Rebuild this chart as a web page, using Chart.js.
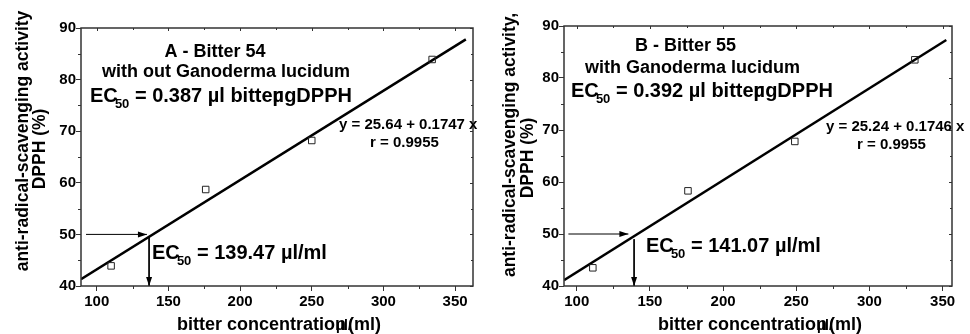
<!DOCTYPE html>
<html>
<head>
<meta charset="utf-8">
<script src="https://cdn.jsdelivr.net/npm/chart.js@4.4.1/dist/chart.umd.min.js"></script>
<style>
  html, body { margin: 0; padding: 0; background: #fff; }
  .panel { position: absolute; top: 0; width: 485px; height: 334px; }
  #panelA { left: 0; }
  #panelB { left: 485px; }
</style>
</head>
<body>
<div class="panel" id="panelA"><canvas id="chartA" width="485" height="334"></canvas></div>
<div class="panel" id="panelB"><canvas id="chartB" width="485" height="334"></canvas></div>
<script>
// ticks
const xMajor = [100, 150, 200, 250, 300, 350];
const xMinor = [125, 175, 225, 275, 325];
const yMajor = [40, 50, 60, 70, 80, 90];
const yMinor = [45, 55, 65, 75, 85];
const yRange = [40, 90];

// A - Bitter 54
const concA = [110, 176, 250, 334];
const dpphA = [43.9, 58.7, 68.2, 83.9];
const fitXA = [89, 357.5];
const fitYA = [41.3, 87.8];
const arrowXA = [92.5, 135];      // horizontal arrow at y = 50
const arrowYA = [49.7, 40];       // vertical arrow at x = ec50A
const ec50A = 136.5;
const xRangeA = [89, 362.5];

// B - Bitter 55
const concB = [111, 176, 249, 331];
const dpphB = [43.5, 58.3, 67.8, 83.5];
const fitXB = [91.3, 352.5];
const fitYB = [41.1, 87.3];
const arrowXB = [94.3, 135.3];
const arrowYB = [49.0, 40];
const ec50B = 139.2;
const xRangeB = [91.3, 356.4];

const FONT = '"Liberation Sans", Arial, sans-serif';

// Рисуем "EC" с индексом 50, возвращаем x после индекса
function drawEC(ctx, x, y, size) {
    ctx.font = `bold ${size}px ${FONT}`;
    ctx.fillText('EC', x, y);
    const wE = ctx.measureText('E').width;
    const wC = ctx.measureText('C').width;
    const subX = x + wE + wC * 0.8;
    ctx.font = `bold 13px ${FONT}`;
    ctx.fillText('50', subX, y + 5.5);
    const end = subX + ctx.measureText('50').width;
    ctx.font = `bold ${size}px ${FONT}`;
    return end;
}

function arrowHead(ctx, from, to) {
    const ang = Math.atan2(to.y - from.y, to.x - from.x);
    const len = 9, half = 3;
    ctx.save();
    ctx.translate(to.x, to.y);
    ctx.rotate(ang);
    ctx.beginPath();
    ctx.moveTo(0, 0);
    ctx.lineTo(-len, -half);
    ctx.lineTo(-len, half);
    ctx.closePath();
    ctx.fillStyle = '#000';
    ctx.fill();
    ctx.restore();
}

function makePanel(id, cfg) {
    const decor = {
        id: 'decor' + id,
        afterDatasetsDraw(chart) {
            const ctx = chart.ctx;
            const a = chart.chartArea;
            const xs = chart.scales.x, ys = chart.scales.y;
            ctx.save();

            // рамка
            ctx.strokeStyle = '#333';
            ctx.lineWidth = 1.5;
            ctx.strokeRect(a.left, a.top, a.right - a.left, a.bottom - a.top);

            // мелкие засечки
            ctx.lineWidth = 1;
            ctx.beginPath();
            xMinor.forEach(v => {
                const px = Math.round(xs.getPixelForValue(v)) + 0.5;
                ctx.moveTo(px, a.bottom); ctx.lineTo(px, a.bottom + 3);
                ctx.moveTo(px, a.top); ctx.lineTo(px, a.top + 2);
            });
            xMajor.forEach(v => {
                const px = Math.round(xs.getPixelForValue(v)) + 0.5;
                ctx.moveTo(px, a.top); ctx.lineTo(px, a.top + 3);
            });
            yMinor.forEach(v => {
                const py = Math.round(ys.getPixelForValue(v)) + 0.5;
                ctx.moveTo(a.left, py); ctx.lineTo(a.left - 3, py);
                ctx.moveTo(a.right, py); ctx.lineTo(a.right - 2, py);
            });
            yMajor.forEach(v => {
                const py = Math.round(ys.getPixelForValue(v)) + 0.5;
                ctx.moveTo(a.right, py); ctx.lineTo(a.right - 3, py);
            });
            ctx.stroke();

            // стрелки
            chart.data.datasets.forEach((ds, i) => {
                if (!ds.arrow) return;
                const pts = chart.getDatasetMeta(i).data;
                arrowHead(ctx, pts[pts.length - 2], pts[pts.length - 1]);
            });

            // подписи
            ctx.fillStyle = '#000';
            ctx.textBaseline = 'alphabetic';
            ctx.textAlign = 'center';
            ctx.font = `bold 18px ${FONT}`;
            ctx.fillText(cfg.title[0], cfg.titlePos[0][0], cfg.titlePos[0][1]);
            ctx.fillText(cfg.title[1], cfg.titlePos[1][0], cfg.titlePos[1][1]);

            ctx.textAlign = 'left';
            // EC50 = ... µl bitter/DPPH
            let x = drawEC(ctx, cfg.ecTop[0], cfg.ecTop[1], 20);
            const part = ` = ${cfg.ecTopVal} µl bitte`;
            ctx.fillText(part, x, cfg.ecTop[1]);
            x += ctx.measureText(part).width;
            ctx.fillText('r', x, cfg.ecTop[1]);
            ctx.fillText('µg', x, cfg.ecTop[1]);
            x += ctx.measureText('µg').width;
            ctx.fillText('DPPH', x, cfg.ecTop[1]);

            // EC50 = ... µl/ml
            x = drawEC(ctx, cfg.ecBot[0], cfg.ecBot[1], 20);
            ctx.fillText(` = ${cfg.ecBotVal} µl/ml`, x, cfg.ecBot[1]);

            // уравнение
            ctx.font = `bold 15px ${FONT}`;
            ctx.fillText(cfg.eq, cfg.eqPos[0], cfg.eqPos[1]);
            ctx.fillText(cfg.r, cfg.rPos[0], cfg.rPos[1]);

            // подпись оси X
            ctx.font = `bold 18px ${FONT}`;
            x = cfg.xTitlePos[0];
            const y = cfg.xTitlePos[1];
            ctx.fillText('bitter concentratio', x, y);
            x += ctx.measureText('bitter concentratio').width;
            ctx.fillText('n', x, y);
            ctx.font = `bold 14px ${FONT}`;
            ctx.fillText('µl/', x + 1, y);
            ctx.font = `bold 18px ${FONT}`;
            ctx.fillText('(ml)', x + 13, y);

            // подпись оси Y
            ctx.textAlign = 'center';
            ctx.textBaseline = 'middle';
            ctx.font = `bold 17.5px ${FONT}`;
            cfg.yTitle.forEach((t, i) => {
                ctx.save();
                ctx.translate(cfg.yTitlePos[i][0], cfg.yTitlePos[i][1]);
                ctx.rotate(-Math.PI / 2);
                ctx.fillText(t, 0, 0);
                ctx.restore();
            });
            ctx.restore();
        }
    };

    const toXY = (xs, ys) => xs.map((v, i) => ({ x: v, y: ys[i] }));

    return new Chart(document.getElementById(id), {
        type: 'scatter',
        data: {
            datasets: [
                {
                    data: toXY(cfg.conc, cfg.dpph),
                    pointStyle: 'rect',
                    pointRadius: 4.6,
                    pointBorderWidth: 1,
                    pointBorderColor: '#222',
                    pointBackgroundColor: 'rgba(255,255,255,0)',
                    showLine: false
                },
                {
                    data: toXY(cfg.fitX, cfg.fitY),
                    showLine: true,
                    pointRadius: 0,
                    borderColor: '#000',
                    borderWidth: 2.5
                },
                {
                    data: toXY(cfg.arrowX, [50, 50]),
                    showLine: true,
                    pointRadius: 0,
                    borderColor: '#000',
                    borderWidth: 1,
                    arrow: true
                },
                {
                    data: toXY([cfg.ec50, cfg.ec50], cfg.arrowY),
                    showLine: true,
                    pointRadius: 0,
                    borderColor: '#000',
                    borderWidth: 1,
                    arrow: true
                }
            ]
        },
        options: {
            responsive: false,
            animation: false,
            events: [],
            layout: { padding: { top: cfg.pad[0], right: cfg.pad[1], bottom: 0, left: 0 } },
            plugins: { legend: { display: false }, tooltip: { enabled: false } },
            scales: {
                x: {
                    type: 'linear',
                    min: cfg.xRange[0],
                    max: cfg.xRange[1],
                    afterBuildTicks: s => { s.ticks = xMajor.map(v => ({ value: v })); },
                    afterFit: s => { s.height = 48; },
                    border: { display: false },
                    grid: { drawOnChartArea: false, drawTicks: true, tickLength: 5, tickColor: '#333', tickWidth: 1 },
                    ticks: { autoSkip: false, maxRotation: 0, padding: 2, color: '#000', font: { family: FONT, size: 15, weight: 'bold' } }
                },
                y: {
                    type: 'linear',
                    min: yRange[0],
                    max: yRange[1],
                    afterBuildTicks: s => { s.ticks = yMajor.map(v => ({ value: v })); },
                    afterFit: s => { s.width = cfg.yWidth; },
                    border: { display: false },
                    grid: { drawOnChartArea: false, drawTicks: true, tickLength: 5, tickColor: '#333', tickWidth: 1 },
                    ticks: { autoSkip: false, padding: 0, color: '#000', font: { family: FONT, size: 15, weight: 'bold' } }
                }
            }
        },
        plugins: [decor]
    });
}

makePanel('chartA', {
    conc: concA, dpph: dpphA, fitX: fitXA, fitY: fitYA,
    arrowX: arrowXA, arrowY: arrowYA, ec50: ec50A, xRange: xRangeA,
    pad: [28, 12], yWidth: 81,
    title: ['A - Bitter 54', 'with out Ganoderma lucidum'],
    titlePos: [[215, 56.5], [226, 77]],
    ecTop: [90, 102], ecTopVal: '0.387',
    ecBot: [152, 259], ecBotVal: '139.47',
    eq: 'y = 25.64 + 0.1747 x', eqPos: [339, 129],
    r: 'r = 0.9955', rPos: [370, 147],
    xTitlePos: [177, 330],
    yTitle: ['anti-radical-scavenging activity', 'DPPH (%)'],
    yTitlePos: [[23, 141], [40, 149]]
});

makePanel('chartB', {
    conc: concB, dpph: dpphB, fitX: fitXB, fitY: fitYB,
    arrowX: arrowXB, arrowY: arrowYB, ec50: ec50B, xRange: xRangeB,
    pad: [26, 18], yWidth: 79,
    title: ['B - Bitter 55', 'with Ganoderma lucidum'],
    titlePos: [[200.5, 50.7], [207.5, 72.7]],
    ecTop: [86, 97], ecTopVal: '0.392',
    ecBot: [161, 252], ecBotVal: '141.07',
    eq: 'y = 25.24 + 0.1746 x', eqPos: [341, 131],
    r: 'r = 0.9955', rPos: [372, 148.5],
    xTitlePos: [173, 330],
    yTitle: ['anti-radical-scavenging activity,', 'DPPH (%)'],
    yTitlePos: [[25, 145], [43, 158]]
});
</script>
</body>
</html>
